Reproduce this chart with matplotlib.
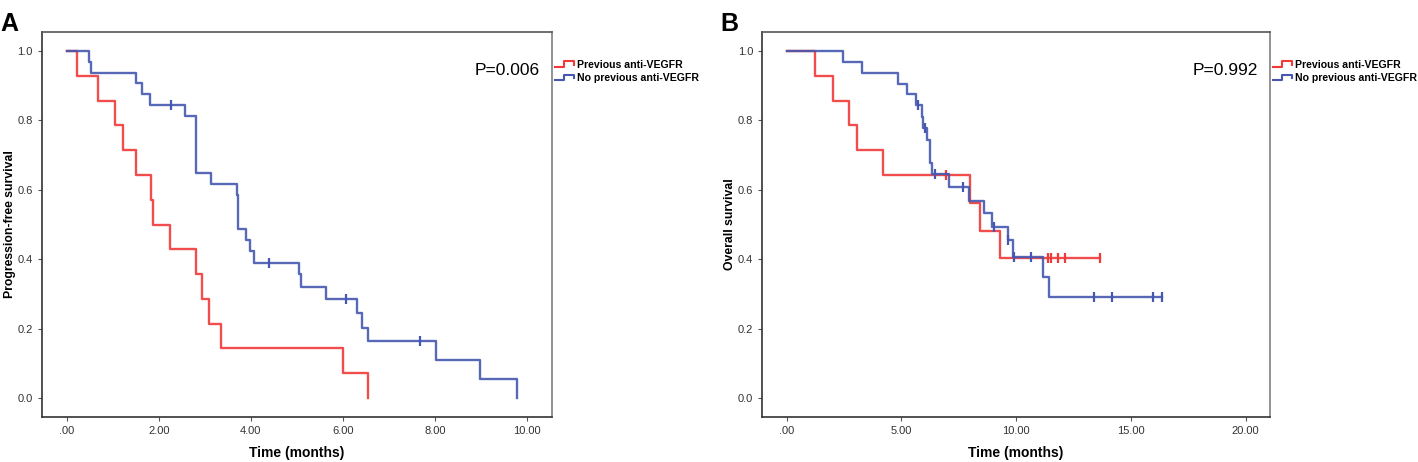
import numpy as np
import matplotlib
matplotlib.use('Agg')
import matplotlib.pyplot as plt
from matplotlib.lines import Line2D
from matplotlib.legend_handler import HandlerBase

plt.rcParams['font.family'] = ['Liberation Sans', 'DejaVu Sans']

##Données
#A : survie sans progression
a_prev_t = [0.23, 0.68, 1.04, 1.23, 1.50, 1.84, 1.87, 2.24, 2.81, 2.93, 3.09, 3.36, 5.99, 6.54]
a_prev_s = [0.929, 0.857, 0.786, 0.714, 0.643, 0.571, 0.500, 0.429, 0.357, 0.286, 0.214, 0.143, 0.071, 0.0]
a_prev_cens = []

a_none_t = [0.48, 0.52, 1.51, 1.63, 1.80, 2.57, 2.81, 3.14, 3.70, 3.73, 3.89, 3.97, 4.07,
            5.04, 5.09, 5.63, 6.31, 6.42, 6.54, 8.01, 8.98, 9.78]
a_none_s = [0.969, 0.938, 0.909, 0.876, 0.844, 0.813, 0.649, 0.618, 0.585, 0.487, 0.455, 0.424, 0.390,
            0.356, 0.320, 0.284, 0.245, 0.203, 0.163, 0.109, 0.055, 0.0]
a_none_cens = [2.26, 4.40, 6.07, 7.67]

#B : survie globale
b_prev_t = [1.22, 2.01, 2.72, 3.06, 4.20, 8.01, 8.45, 9.32]
b_prev_s = [0.929, 0.857, 0.786, 0.714, 0.643, 0.563, 0.482, 0.402]
b_prev_cens = [6.93, 11.37, 11.52, 11.81, 12.15, 13.66]

b_none_t = [2.48, 3.30, 4.87, 5.26, 5.64, 5.91, 5.95, 6.10, 6.26, 6.33, 7.07, 7.96, 8.59, 8.93,
            9.65, 9.87, 11.16, 11.42]
b_none_s = [0.969, 0.938, 0.906, 0.875, 0.844, 0.811, 0.779, 0.745, 0.678, 0.645, 0.608, 0.569, 0.534,
            0.494, 0.455, 0.407, 0.350, 0.291]
b_none_cens = [5.71, 6.03, 6.47, 7.67, 9.03, 9.67, 9.90, 10.67, 13.39, 14.18, 15.95, 16.37]

labels = ['Previous anti-VEGFR', 'No previous anti-VEGFR']
red = '#f03a3a'
blue = '#4557b0'


class StepHandler(HandlerBase):
    #petit symbole en escalier pour la légende
    def create_artists(self, legend, orig_handle, xdescent, ydescent, width, height, fontsize, trans):
        xs = np.array([0, 0.5, 0.5, 1.0, 1.0]) * width - xdescent
        ys = np.array([0.15, 0.15, 0.85, 0.85, 0.4]) * height - ydescent
        ln = Line2D(xs, ys, color=orig_handle.get_color(), lw=1.5, transform=trans)
        return [ln]


def km(ax, t, s, cens, color):
    x = [0.0] + list(t)
    y = [1.0] + list(s)
    end = max(cens) if cens else x[-1]
    if end > x[-1]:
        x.append(end)
        y.append(y[-1])
    ax.step(x, y, where='post', color=color, lw=1.7, alpha=0.9)
    if cens:
        idx = np.searchsorted(np.array(x), np.array(cens), side='right') - 1
        ax.plot(cens, np.array(y)[idx], marker='|', markersize=7, mew=1.6,
                linestyle='none', color=color)


def panel(rect, curves, xmax, xstep, ylab, ptxt, letter):
    ax = fig.add_axes(rect)
    for t, s, c, col in curves:
        km(ax, t, s, c, col)
    pad = 0.0535 * xmax
    ax.set_xlim(-pad, xmax + pad)
    ax.set_ylim(-0.055, 1.055)
    xt = np.arange(0, xmax + 0.01, xstep)
    ax.set_xticks(xt)
    ax.set_xticklabels(['.00'] + ['%.2f' % v for v in xt[1:]])
    ax.set_yticks(np.arange(0, 1.01, 0.2))
    ax.set_yticklabels(['%.1f' % v for v in np.arange(0, 1.01, 0.2)])
    ax.tick_params(labelsize=8, labelcolor='#333333', length=3, width=0.8, color='#555555')
    for sp in ax.spines.values():
        sp.set_color('#333333')
        sp.set_linewidth(1.2)
    ax.spines['right'].set_color('#808080')
    ax.spines['top'].set_color('#555555')
    ax.set_xlabel('Time (months)', fontsize=10, fontweight='bold', labelpad=7)
    ax.set_ylabel(ylab, fontsize=8.8, fontweight='bold', va='center')
    ax.yaxis.set_label_coords(-0.063, 0.5)
    ax.text(0.976, 0.899, ptxt, transform=ax.transAxes, ha='right', va='center', fontsize=12.5)
    handles = [Line2D([], [], color=red), Line2D([], [], color=blue)]
    ax.legend(handles, labels, loc='upper left', bbox_to_anchor=(1.005, 0.928), frameon=False,
              handler_map={Line2D: StepHandler()}, handlelength=1.8, handletextpad=0.3,
              borderpad=0, borderaxespad=0, labelspacing=0.3,
              prop={'size': 7.6, 'weight': 'bold'})
    fig.text(rect[0] - 0.0296, 0.975, letter, fontsize=18, fontweight='bold', va='top', ha='left')
    return ax


fig = plt.figure(figsize=(14.18, 4.62), dpi=100)

panel([0.0296, 0.0974, 0.3597, 0.8333],
      [(a_prev_t, a_prev_s, a_prev_cens, red), (a_none_t, a_none_s, a_none_cens, blue)],
      10, 2, 'Progression-free survival', 'P=0.006', 'A')
panel([0.5374, 0.0974, 0.3583, 0.8333],
      [(b_prev_t, b_prev_s, b_prev_cens, red), (b_none_t, b_none_s, b_none_cens, blue)],
      20, 5, 'Overall survival', 'P=0.992', 'B')

plt.savefig('out.png', dpi=100)
